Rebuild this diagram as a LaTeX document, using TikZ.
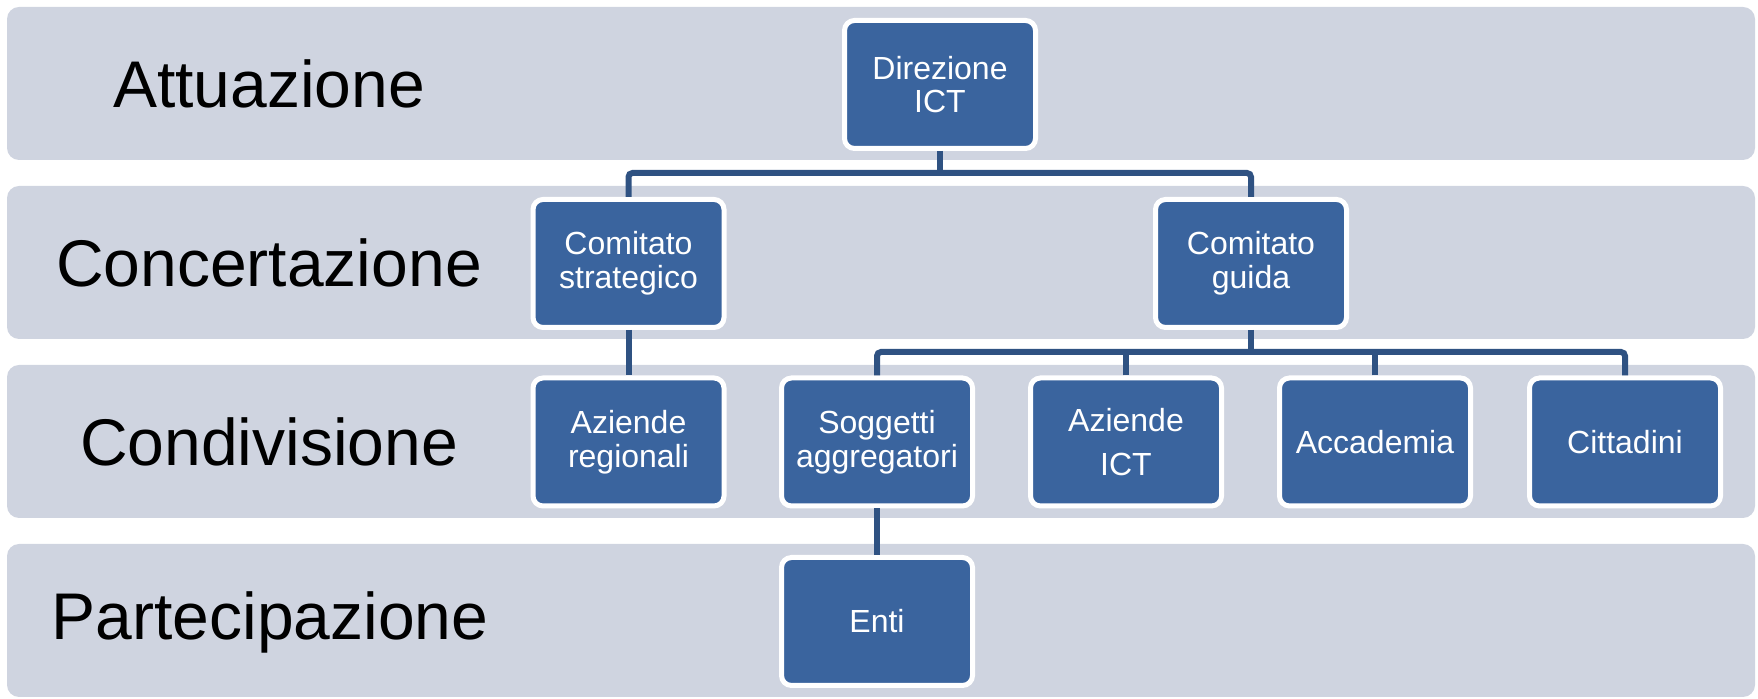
\documentclass[tikz,border=0pt]{standalone}
\usepackage{fontspec}
\setmainfont{Liberation Sans}
\definecolor{bandc}{HTML}{CFD4E0}
\definecolor{boxc}{HTML}{3A649E}
\definecolor{linec}{HTML}{2F5282}
\begin{document}
\begin{tikzpicture}[x=0.5pt,y=-0.5pt,
  band/.style={fill=bandc, rounded corners=6pt},
  lvl/.style={font=\fontsize{33}{36}\selectfont, text=black, inner sep=0pt},
  box/.style={draw=white, line width=2.5pt, fill=boxc, rounded corners=5pt,
    minimum width=95.5pt, minimum height=64pt, inner sep=0pt, align=center,
    text=white, font=\fontsize{16}{16.8}\selectfont},
  conn/.style={draw=linec, line width=3pt, rounded corners=2pt}]
\useasboundingbox (0,0) rectangle (1758,699);
% bands
\fill[band] (7,7) rectangle (1755,160);
\fill[band] (7,186) rectangle (1755,339);
\fill[band] (7,365) rectangle (1755,518);
\fill[band] (7,544) rectangle (1755,697);
% band labels
\node[lvl] (l1) at (269,83.5) {Attuazione};
\node[lvl] (l2) at (269,262.5) {Concertazione};
\node[lvl] (l3) at (269,441.5) {Condivisione};
\node[lvl] (l4) at (270,622) {Partecipazione};
% boxes
\node[box] (dir) at (940,84.5) {Direzione\\ICT};
\node[box] (cs) at (628.5,263.5) {Comitato\\strategico};
\node[box] (cg) at (1251,263.5) {Comitato\\guida};
\node[box] (ar) at (628.5,442) {Aziende\\regionali};
\node[box] (sa) at (877,442) {Soggetti\\aggregatori};
\node[box] (ai) at (1126,442) {Aziende\\[5pt]ICT};
\node[box] (ac) at (1375,442) {Accademia};
\node[box] (ci) at (1625,442) {Cittadini};
\node[box] (en) at (877,621.5) {Enti};
% connectors
\coordinate (b1) at (0,173);
\coordinate (b2) at (0,352);
\draw[conn] (dir.south) -- (dir.south |- b1);
\draw[conn] (cs.north) |- (cg.north |- b1) -- (cg.north);
\draw[conn] (cs.south) -- (ar.north);
\draw[conn] (cg.south) -- (cg.south |- b2);
\draw[conn] (sa.north) |- (ci.north |- b2) -- (ci.north);
\draw[conn] (ai.north) -- (ai.north |- b2);
\draw[conn] (ac.north) -- (ac.north |- b2);
\draw[conn] (sa.south) -- (en.north);
\end{tikzpicture}
\end{document}
